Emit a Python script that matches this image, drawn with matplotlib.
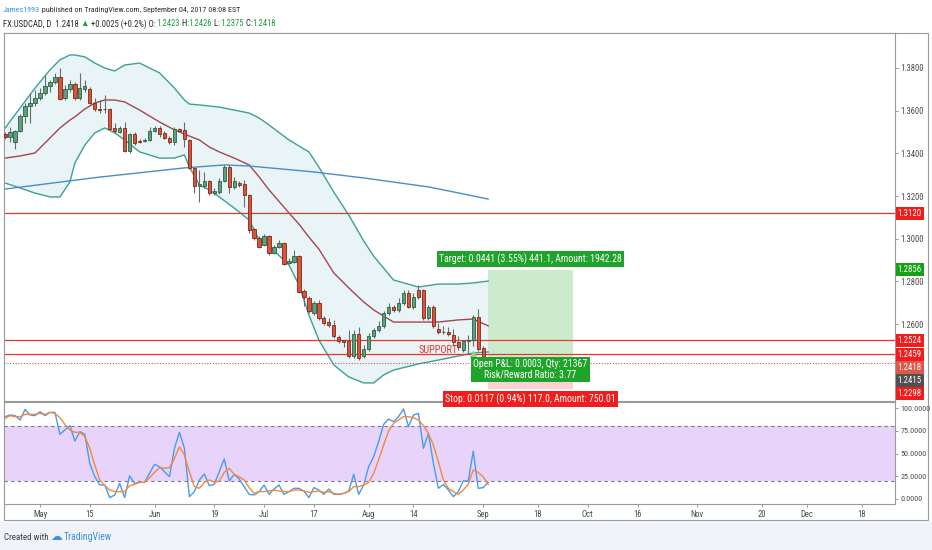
import numpy as np
import pandas as pd
import matplotlib
matplotlib.use('Agg')
import matplotlib.pyplot as plt
import matplotlib.transforms as mtransforms
from matplotlib.patches import Rectangle
import logging

logging.getLogger('matplotlib.font_manager').setLevel(logging.ERROR)
plt.rcParams['font.family'] = ['Roboto Condensed', 'PT Sans Narrow', 'Archivo Narrow',
                               'Liberation Sans Narrow', 'Liberation Sans', 'DejaVu Sans']

# ---- data ----
first_day = '2017-04-20'

opens = [1.3491, 1.3477, 1.3453, 1.3505, 1.3575, 1.3622, 1.3636, 1.3660, 1.3683, 1.3716,
         1.3734, 1.3758, 1.3660, 1.3702, 1.3725, 1.3660, 1.3702, 1.3702, 1.3636, 1.3608,
         1.3608, 1.3606, 1.3519, 1.3500, 1.3519, 1.3411, 1.3491, 1.3458, 1.3458, 1.3463,
         1.3505, 1.3519, 1.3496, 1.3472, 1.3453, 1.3514, 1.3510, 1.3463, 1.3332, 1.3247,
         1.3247, 1.3271, 1.3214, 1.3219, 1.3271, 1.3336, 1.3243, 1.3261, 1.3257, 1.3205,
         1.3046, 1.3004, 1.2971, 1.3013, 1.2933, 1.2961, 1.2980, 1.2887, 1.2891, 1.2919,
         1.2755, 1.2723, 1.2652, 1.2699, 1.2629, 1.2610, 1.2596, 1.2540, 1.2524, 1.2519,
         1.2451, 1.2554, 1.2451, 1.2484, 1.2545, 1.2573, 1.2592, 1.2652, 1.2680, 1.2666,
         1.2699, 1.2746, 1.2680, 1.2760, 1.2760, 1.2629, 1.2680, 1.2578, 1.2564, 1.2564,
         1.2550, 1.2515, 1.2479, 1.2519, 1.2524, 1.2634, 1.2489, 1.2423]
closes = [1.3477, 1.3500, 1.3505, 1.3575, 1.3622, 1.3636, 1.3660, 1.3683, 1.3716, 1.3734,
          1.3758, 1.3655, 1.3702, 1.3725, 1.3660, 1.3706, 1.3716, 1.3636, 1.3608, 1.3603,
          1.3606, 1.3514, 1.3505, 1.3519, 1.3411, 1.3491, 1.3449, 1.3453, 1.3463, 1.3505,
          1.3519, 1.3491, 1.3472, 1.3453, 1.3514, 1.3505, 1.3467, 1.3332, 1.3247, 1.3257,
          1.3271, 1.3214, 1.3224, 1.3271, 1.3336, 1.3243, 1.3271, 1.3252, 1.3205, 1.3041,
          1.3004, 1.2961, 1.3013, 1.2933, 1.2961, 1.2980, 1.2882, 1.2896, 1.2919, 1.2751,
          1.2727, 1.2662, 1.2699, 1.2629, 1.2606, 1.2596, 1.2545, 1.2519, 1.2515, 1.2451,
          1.2554, 1.2442, 1.2484, 1.2545, 1.2573, 1.2592, 1.2652, 1.2680, 1.2666, 1.2699,
          1.2746, 1.2680, 1.2727, 1.2727, 1.2629, 1.2680, 1.2592, 1.2564, 1.2562, 1.2554,
          1.2515, 1.2491, 1.2519, 1.2524, 1.2634, 1.2484, 1.2393, 1.2418]
highs = [1.3500, 1.3524, 1.3510, 1.3585, 1.3636, 1.3683, 1.3697, 1.3706, 1.3767, 1.3744,
         1.3777, 1.3800, 1.3720, 1.3744, 1.3734, 1.3777, 1.3744, 1.3711, 1.3660, 1.3650,
         1.3674, 1.3613, 1.3542, 1.3528, 1.3547, 1.3496, 1.3500, 1.3467, 1.3472, 1.3524,
         1.3528, 1.3528, 1.3505, 1.3481, 1.3524, 1.3519, 1.3547, 1.3467, 1.3336, 1.3322,
         1.3313, 1.3275, 1.3238, 1.3285, 1.3346, 1.3346, 1.3289, 1.3271, 1.3275, 1.3210,
         1.3051, 1.3013, 1.3022, 1.3018, 1.2971, 1.2994, 1.2985, 1.2910, 1.2947, 1.2924,
         1.2765, 1.2732, 1.2708, 1.2713, 1.2638, 1.2629, 1.2620, 1.2550, 1.2526, 1.2573,
         1.2573, 1.2587, 1.2503, 1.2559, 1.2582, 1.2615, 1.2662, 1.2699, 1.2690, 1.2723,
         1.2760, 1.2760, 1.2746, 1.2784, 1.2765, 1.2690, 1.2690, 1.2606, 1.2592, 1.2587,
         1.2578, 1.2545, 1.2526, 1.2550, 1.2643, 1.2671, 1.2498, 1.2426]
lows = [1.3467, 1.3453, 1.3421, 1.3500, 1.3542, 1.3542, 1.3622, 1.3650, 1.3674, 1.3688,
        1.3725, 1.3650, 1.3650, 1.3688, 1.3650, 1.3650, 1.3688, 1.3631, 1.3599, 1.3589,
        1.3589, 1.3510, 1.3496, 1.3496, 1.3407, 1.3402, 1.3439, 1.3449, 1.3453, 1.3458,
        1.3500, 1.3477, 1.3467, 1.3444, 1.3439, 1.3500, 1.3430, 1.3327, 1.3214, 1.3172,
        1.3238, 1.3205, 1.3205, 1.3210, 1.3266, 1.3214, 1.3233, 1.3243, 1.3149, 1.3027,
        1.2994, 1.2957, 1.2966, 1.2924, 1.2929, 1.2957, 1.2877, 1.2882, 1.2887, 1.2746,
        1.2685, 1.2652, 1.2643, 1.2620, 1.2596, 1.2587, 1.2536, 1.2510, 1.2491, 1.2442,
        1.2442, 1.2432, 1.2442, 1.2475, 1.2536, 1.2564, 1.2582, 1.2643, 1.2657, 1.2657,
        1.2690, 1.2676, 1.2671, 1.2718, 1.2620, 1.2620, 1.2582, 1.2554, 1.2554, 1.2545,
        1.2496, 1.2479, 1.2470, 1.2461, 1.2496, 1.2475, 1.2390, 1.2375]

# bollinger bands (20) sampled at bar numbers
bb_bars = [0, 3, 6, 9, 11, 13, 14, 16, 18, 20, 22, 24, 27, 31, 34, 36, 37, 39, 41, 43,
           46, 49, 51, 53, 57, 59, 61, 63, 66, 69, 72, 74, 76, 78, 83, 87, 91, 94, 97]
bb_upper = [1.3519, 1.3613, 1.3706, 1.3791, 1.3838, 1.3861, 1.3861, 1.3852, 1.3823, 1.3800,
            1.3786, 1.3814, 1.3823, 1.3777, 1.3706, 1.3650, 1.3631, 1.3627, 1.3622, 1.3617,
            1.3603, 1.3589, 1.3566, 1.3533, 1.3463, 1.3435, 1.3407, 1.3336, 1.3219, 1.3111,
            1.2990, 1.2919, 1.2863, 1.2807, 1.2774, 1.2788, 1.2788, 1.2793, 1.2802]
bb_basis = [1.3378, 1.3388, 1.3402, 1.3472, 1.3519, 1.3556, 1.3571, 1.3608, 1.3636, 1.3650,
            1.3650, 1.3641, 1.3603, 1.3547, 1.3510, 1.3491, 1.3481, 1.3463, 1.3430, 1.3407,
            1.3378, 1.3346, 1.3290, 1.3229, 1.3121, 1.3069, 1.3008, 1.2952, 1.2840, 1.2770,
            1.2704, 1.2667, 1.2638, 1.2610, 1.2610, 1.2610, 1.2620, 1.2624, 1.2592]
bb_lower = [1.3261, 1.3238, 1.3214, 1.3196, 1.3196, 1.3266, 1.3355, 1.3439, 1.3496, 1.3519,
            1.3496, 1.3463, 1.3407, 1.3378, 1.3378, 1.3393, 1.3336, 1.3252, 1.3229, 1.3196,
            1.3144, 1.3088, 1.2994, 1.2966, 1.2877, 1.2784, 1.2643, 1.2526, 1.2409, 1.2353,
            1.2325, 1.2325, 1.2362, 1.2385, 1.2414, 1.2432, 1.2451, 1.2465, 1.2470]

# long moving average
ma_bars = [0, 19, 36, 44, 49, 62, 72, 85, 91, 97]
ma_vals = [1.3233, 1.3289, 1.3332, 1.3346, 1.3341, 1.3313, 1.3285, 1.3243, 1.3215, 1.3186]

# stochastic %K / %D
stoch_k = [90.5, 92.3, 91.6, 86.8, 98.5, 92.3, 91.6, 96.0, 91.6, 95.2, 95.2, 71.1, 75.8, 80.6,
           63.7, 74.0, 71.1, 39.2, 24.5, 15.4, 15.4, 1.5, 4.4, 17.2, 1.5, 25.6, 17.2, 18.3,
           18.3, 28.2, 38.1, 35.5, 30.0, 24.5, 55.7, 73.3, 55.7, 2.6, 8.1, 20.9, 27.5, 14.7,
           16.1, 30.0, 44.0, 19.8, 27.1, 22.0, 13.6, 5.1,
           4.4, 8.1, 15.4, 5.1, 11.0, 15.4, 5.1, 8.1, 11.7, 11.7, 8.8, 1.5, 12.5, 9.9, 5.1,
           11.0, 5.1, 5.1, 6.2, 8.8, 27.1, 5.1, 15.4, 35.5, 46.5, 63.0, 82.0, 87.9, 85.0, 90.5,
           98.9, 79.5, 92.3, 94.1, 55.7, 72.2, 39.2, 11.7, 16.1, 9.9, 2.6, 8.1, 19.8, 19.8,
           52.7, 11.7, 12.5, 18.3]
stoch_d = [88.6, 91.6, 90.5, 90.5, 93.0, 93.0, 93.0, 94.1, 93.0, 95.2, 94.1, 89.4, 82.0, 75.8,
           73.3, 73.3, 68.5, 55.7, 37.4, 20.9, 14.7, 9.9, 8.1, 8.1, 8.1, 14.7, 16.1, 18.3,
           18.3, 23.4, 29.3, 34.4, 33.7, 34.4, 44.7, 57.5, 48.4, 30.0, 13.6, 11.8, 18.3, 20.9,
           18.3, 19.8, 29.3, 33.7, 27.1, 24.5, 20.9, 12.4,
           6.2, 8.1, 8.1, 8.8, 9.9, 8.8, 8.1, 8.1, 9.9, 9.9, 8.8, 7.3, 8.1, 8.8, 7.3,
           8.1, 6.2, 5.1, 6.2, 8.1, 13.6, 13.6, 15.4, 18.3, 28.2, 42.9, 59.3, 74.7, 83.2, 86.8,
           90.5, 90.5, 89.4, 86.8, 80.6, 72.2, 59.3, 41.0, 20.9, 11.7, 8.1, 5.1, 9.9, 16.1,
           31.9, 29.3, 24.5, 16.1]

# horizontal levels and long position tool
level_lines = [1.3120, 1.2524, 1.2459]
last_close = 1.2418
entry, target, stop = 1.2415, 1.2856, 1.2298
pos_start, pos_end = '2017-09-04', '2017-09-27'
support_day, support_price = '2017-08-21', 1.2480

tick_days = ['2017-05-01', '2017-05-15', '2017-06-01', '2017-06-19', '2017-07-03', '2017-07-17',
             '2017-08-01', '2017-08-14', '2017-09-01', '2017-09-18', '2017-10-02', '2017-10-16',
             '2017-11-01', '2017-11-20', '2017-12-01', '2017-12-18']
tick_names = ['May', '15', 'Jun', '19', 'Jul', '17', 'Aug', '14', 'Sep', '18', 'Oct', '16',
              'Nov', '20', 'Dec', '18']

axis_labels = [1.3120, 1.2856, 1.2524, 1.2459, 1.2418, 1.2415, 1.2298]
axis_label_colors = ['#F21C1C', '#16A116', '#F21C1C', '#F21C1C', '#DB5A4C', '#505050', '#F21C1C']

# ---- figure ----
W, H = 932, 550
fig = plt.figure(figsize=(W / 100, H / 100), dpi=100)
fig.patch.set_facecolor('white')

def fbox(x0, y0, x1, y1):
    return [x0 / W, 1 - y1 / H, (x1 - x0) / W, (y1 - y0) / H]

ax = fig.add_axes(fbox(4, 33, 895, 401))
ax_st = fig.add_axes(fbox(4, 402, 895, 504), sharex=ax)
ax.set_zorder(2)
ax_st.set_zorder(1)

cal = pd.bdate_range(first_day, '2017-12-29')
def day_pos(d):
    return cal.get_loc(pd.Timestamp(d))

pos = np.arange(len(opens))
o, c, h, l = map(np.array, (opens, closes, highs, lows))

# bollinger bands
ax.fill_between(bb_bars, bb_lower, bb_upper, color='#E8F4F5', lw=0, zorder=1)
ax.plot(bb_bars, bb_upper, color='#3E9F98', lw=1, zorder=2)
ax.plot(bb_bars, bb_lower, color='#3E9F98', lw=1, zorder=2)
ax.plot(bb_bars, bb_basis, color='#A3474F', lw=1, zorder=2)
ax.plot(ma_bars, ma_vals, color='#4C8CC8', lw=1, zorder=2)

# levels
for lv in level_lines:
    ax.axhline(lv, color='#E8372F', lw=0.9, zorder=2.5)
ax.axhline(last_close, color='#D9534F', lw=0.8, ls=(0, (1, 1.5)), zorder=2.5)

# candles
up = c >= o
body_col = np.where(up, '#5AA27C', '#DD5239')
edge_col = np.where(up, '#2F5E45', '#7A2A1C')
ax.vlines(pos, l, h, colors='#6B6B6B', lw=0.8, zorder=3)
ax.bar(pos, np.maximum(np.abs(c - o), 0.00012), bottom=np.minimum(o, c), width=0.66,
       color=body_col, edgecolor=edge_col, linewidth=0.6, zorder=4)

# position tool
x0, x1 = day_pos(pos_start), day_pos(pos_end)
ax.add_patch(Rectangle((x0, entry), x1 - x0, target - entry, fc='#CCEACC', ec='none', zorder=1.5))
ax.add_patch(Rectangle((x0, stop), x1 - x0, entry - stop, fc='#F9D3D3', ec='none', zorder=1.5))
xm = (x0 + x1) / 2
lab = dict(color='white', fontsize=7, ha='center', zorder=10, annotation_clip=False)
ax.annotate('Target: 0.0441 (3.55%) 441.1, Amount: 1942.28', (xm, target), xytext=(0, 3.5),
            textcoords='offset points', va='bottom',
            bbox=dict(boxstyle='square,pad=0.25', fc='#1FA32A', ec='none'), **lab)
ax.annotate('Open P&L: 0.0003, Qty: 21367\nRisk/Reward Ratio: 3.77', (xm, entry), xytext=(0, -4),
            textcoords='offset points', va='center', linespacing=1.0,
            bbox=dict(boxstyle='square,pad=0.25', fc='#1FA32A', ec='none'), **lab)
ax.annotate('Stop: 0.0117 (0.94%) 117.0, Amount: 750.01', (xm, stop), xytext=(0, -3.5),
            textcoords='offset points', va='top',
            bbox=dict(boxstyle='square,pad=0.25', fc='#F21C1C', ec='none'), **lab)

ax.text(day_pos(support_day), support_price, 'SUPPORT', color='#E8372F', fontsize=7.5,
        ha='center', va='center', zorder=6)
ax.plot(day_pos('2017-08-30'), 1.2462, marker='^', color='#8BD68B', ms=4, zorder=6)

ymin, ymax = 1.22402, 1.39639
ax.set_ylim(ymin, ymax)
ax.set_xlim(-0.23, 178.7)
ax.yaxis.tick_right()
ax.set_yticks(np.arange(1.26, 1.3801, 0.02))
ax.yaxis.set_major_formatter(matplotlib.ticker.FormatStrFormatter('%.4f'))
ax.tick_params(axis='x', bottom=False, labelbottom=False)

# right axis price labels, stacked so they do not overlap
px_per = 368 / (ymax - ymin)
shown = []
for p in axis_labels:
    y = p
    if shown and (shown[-1] - y) * px_per < 13:
        y = shown[-1] - 13 / px_per
    shown.append(y)
trans = mtransforms.blended_transform_factory(ax.transAxes, ax.transData)
for p, y, col in zip(axis_labels, shown, axis_label_colors):
    ax.text(1.003, y, '%.4f' % p, transform=trans, color='white', fontsize=6.3, ha='left',
            va='center', clip_on=False, zorder=10,
            bbox=dict(boxstyle='square,pad=0.22', fc=col, ec='none'))

# stochastic pane
ax_st.axhspan(20, 80, color='#E8D4FA', lw=0, zorder=0)
ax_st.axhline(80, color='#7E7195', lw=0.8, ls=(0, (3, 3)), zorder=1)
ax_st.axhline(20, color='#7E7195', lw=0.8, ls=(0, (3, 3)), zorder=1)
ax_st.plot(pos, stoch_k, color='#4A9BEA', lw=1, zorder=3)
ax_st.plot(pos, stoch_d, color='#F5883A', lw=1, zorder=3)
ax_st.set_ylim(-5.5, 106.6)
ax_st.yaxis.tick_right()
ax_st.set_yticks([0, 25, 50, 75, 100])
ax_st.yaxis.set_major_formatter(matplotlib.ticker.FormatStrFormatter('%.4f'))
ax_st.set_xticks([day_pos(d) for d in tick_days])
ax_st.set_xticklabels(tick_names)

for a in (ax, ax_st):
    a.tick_params(colors='#8A8A8A', labelcolor='#4A4A4A', labelsize=6.2, length=2.5, width=0.6, pad=1.5)
    for s in a.spines.values():
        s.set_color('#9A9A9A')
        s.set_linewidth(0.8)
ax_st.tick_params(axis='y', labelsize=5.8)

# outer frame and footer
fig.add_artist(Rectangle((4 / W, 1 - 520 / H), 924 / W, 487 / H, transform=fig.transFigure,
                         fill=False, ec='#9A9A9A', lw=0.8))
fig.add_artist(Rectangle((0, 0), 1, 29 / H, transform=fig.transFigure, fc='#F0F3F8', ec='none'))
fig.text(4 / W, 1 - 537 / H, 'Created with', fontsize=6.5, color='#404040', va='center')
fig.text(50 / W, 1 - 537 / H, '\u2601', fontsize=8.5, color='#3D8FD8', va='center',
         family='DejaVu Sans')
fig.text(64 / W, 1 - 537 / H, 'TradingView', fontsize=7, color='#3D8FD8', va='center')

# header, pieces laid out one after another
renderer = fig.canvas.get_renderer()
def text_run(pieces, x, y, size):
    for txt, col in pieces:
        t = fig.text(x / W, 1 - y / H, txt, fontsize=size, color=col, va='center')
        x = t.get_window_extent(renderer).x1

dark, green = '#2A2A2A', '#1E9E3A'
text_run([('James1993', '#3A8FE0'),
          (' published on TradingView.com, September 04, 2017 08:08 EST', dark)], 3, 10, 5.8)
text_run([('FX:USDCAD, D  1.2418 ', dark), ('\u25b2', green), (' +0.0025 (+0.2%) O:', dark),
          ('1.2423', green), (' H:', dark), ('1.2426', green), (' L:', dark), ('1.2375', green),
          (' C:', dark), ('1.2418', green)], 3, 24, 6.2)

fig.savefig('out.png', dpi=100)
